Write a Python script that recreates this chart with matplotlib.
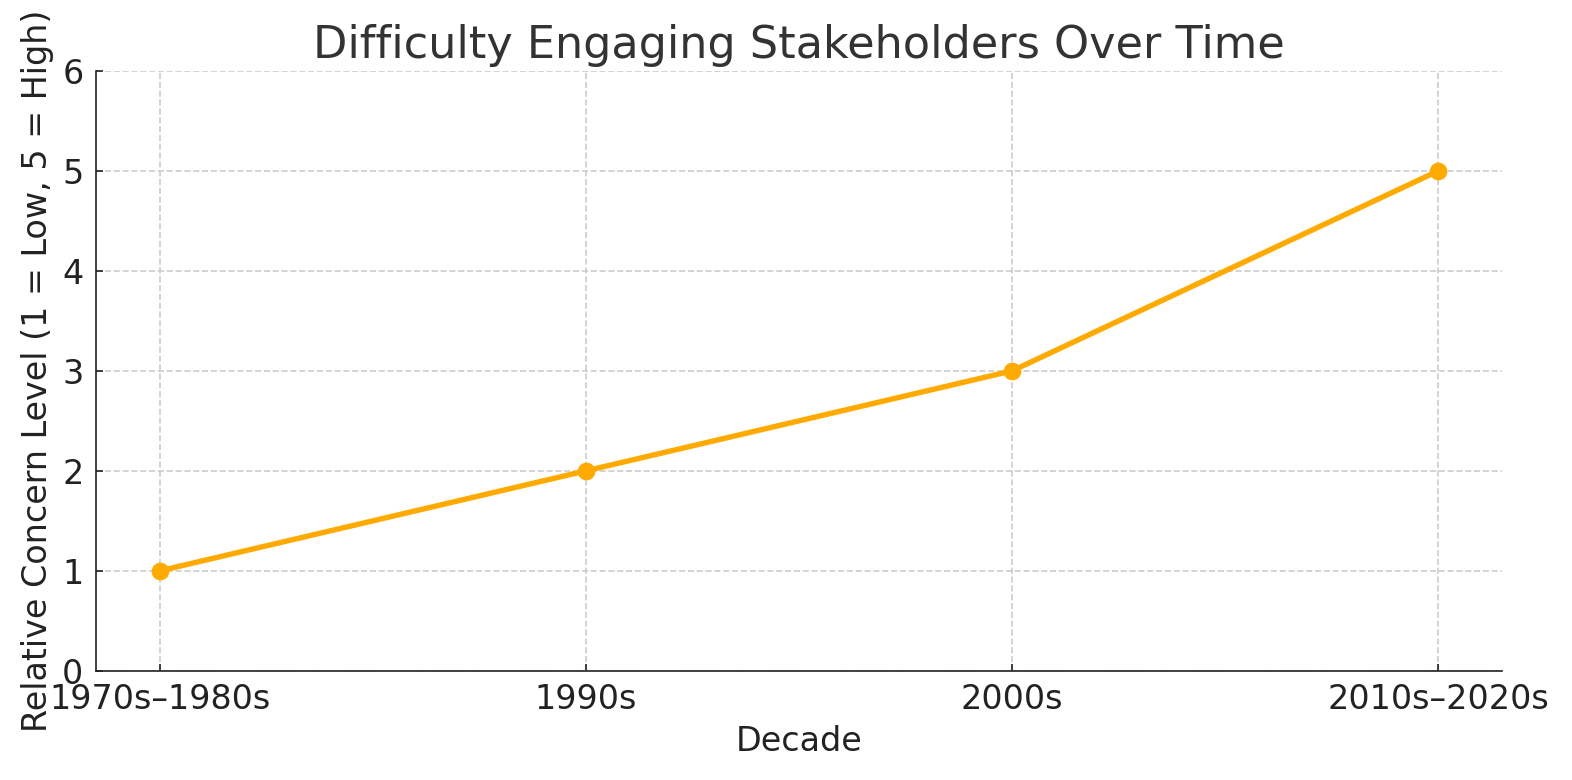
import matplotlib
matplotlib.use("Agg")
from matplotlib import pyplot as plt

decades = ["1970s–1980s", "1990s", "2000s", "2010s–2020s"]
concern = [1, 2, 3, 5]

fig = plt.figure(figsize=(10.48, 5.2), dpi=150)
ax = fig.add_axes([0.061, 0.140, 0.8945, 0.769])

ax.plot(decades, concern, marker="o", color="#FFAA00", linewidth=2.6, markersize=7.5)

ax.set_title("Difficulty Engaging Stakeholders Over Time", fontsize=21.4, color="#333333")
ax.set_xlabel("Decade", fontsize=16, color="#222222")
ax.set_ylabel("Relative Concern Level (1 = Low, 5 = High)", fontsize=16, color="#222222")
ax.set_ylim(0, 6)
ax.tick_params(labelsize=16, direction="in", colors="#222222", pad=6)
ax.grid(True, linestyle="--", color="#cccccc", linewidth=0.8)
ax.spines["top"].set_visible(False)
ax.spines["right"].set_visible(False)
ax.spines["left"].set_color("#222222")
ax.spines["bottom"].set_color("#222222")

fig.savefig("out.png")
